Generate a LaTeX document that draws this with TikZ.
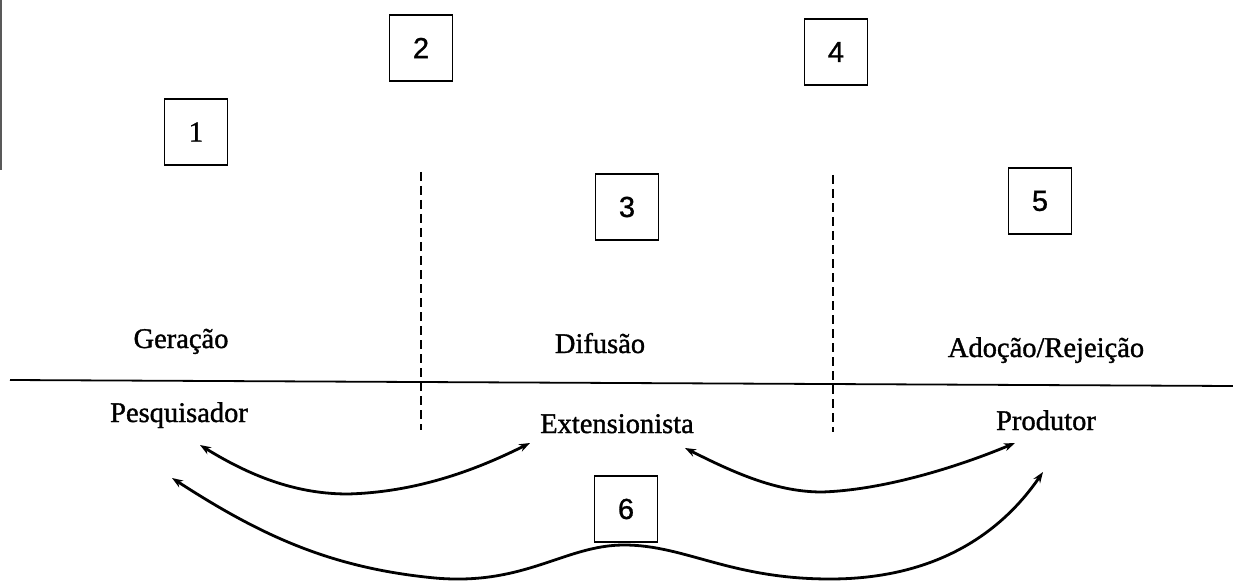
\documentclass[tikz,border=0pt]{standalone}
\usepackage{fontspec}
\setmainfont{Liberation Serif}
\newfontfamily\lblfont[FakeBold=1.2]{Liberation Serif}
\newfontfamily\digitfont[FakeBold=1]{Liberation Sans}
\newfontfamily\onefont[FakeBold=1]{Liberation Serif}
\usetikzlibrary{arrows.meta}
\begin{document}
\begin{tikzpicture}[x=1pt,y=-1pt,
  numbox/.style={draw, line width=1.8pt, minimum width=63pt, minimum height=66pt, inner sep=0pt, font=\digitfont\fontsize{29}{29}\selectfont},
  lbl/.style={inner sep=0pt, anchor=base, font=\lblfont\fontsize{28.5}{30}\selectfont},
  sep/.style={dashed, line width=1.3pt, dash pattern=on 9pt off 5pt},
  flow/.style={line width=2.8pt, {Stealth[length=11pt,width=8pt]}-{Stealth[length=11pt,width=8pt]}}]
\useasboundingbox (0,0) rectangle (1233,585);
% scan edge
\draw[line width=2.5pt, black!65] (1,0) -- (1,170);
% boxes
\node[numbox] (b1) at (196,132) {\onefont\fontsize{29}{29}\selectfont 1};
\node[numbox] (b2) at (421,48) {2};
\node[numbox] (b3) at (627,207) {3};
\node[numbox] (b4) at (836,52) {4};
\node[numbox] (b5) at (1040,201) {5};
\node[numbox] (b6) at (626,509) {6};
% separators
\coordinate (hl) at (10,380);
\coordinate (hr) at (1233,386);
\draw[line width=1.8pt] (hl) -- (hr);
\coordinate (d1t) at (421,172);
\coordinate (d1b) at (421,430);
\coordinate (d2t) at (833,175);
\coordinate (d2b) at (833,432);
\draw[sep] (d1t) -- (d1b);
\draw[sep] (d2t) -- (d2b);
% labels
\node[lbl] (ger) at (181,348) {Geração};
\node[lbl] (dif) at (600,353) {Difusão};
\node[lbl] (ado) at (1046,357) {Adoção/Rejeição};
\node[lbl] (pes) at (179,422) {Pesquisador};
\node[lbl] (ext) at (617,433) {Extensionista};
\node[lbl] (pro) at (1046,430) {Produtor};
% arrow end points
\coordinate (a1) at (200,445);
\coordinate (a2) at (530,443);
\coordinate (c1) at (685,448);
\coordinate (c2) at (1015,443);
\coordinate (e1) at (172,478);
\coordinate (e2) at (1043,472);
% connectors
\draw[flow] (a1) .. controls (255,479) and (300,494) .. (348,494) .. controls (420,492) and (480,468) .. (a2);
\draw[flow] (c1) .. controls (740,476) and (780,492) .. (822,492) .. controls (885,490) and (960,466) .. (c2);
\draw[flow] (e1) .. controls (260,535) and (330,568) .. (435,578) .. controls (525,586) and (565,545) .. (624,545) .. controls (685,545) and (730,579) .. (830,579) .. controls (950,579) and (1010,520) .. (e2);
\end{tikzpicture}
\end{document}
